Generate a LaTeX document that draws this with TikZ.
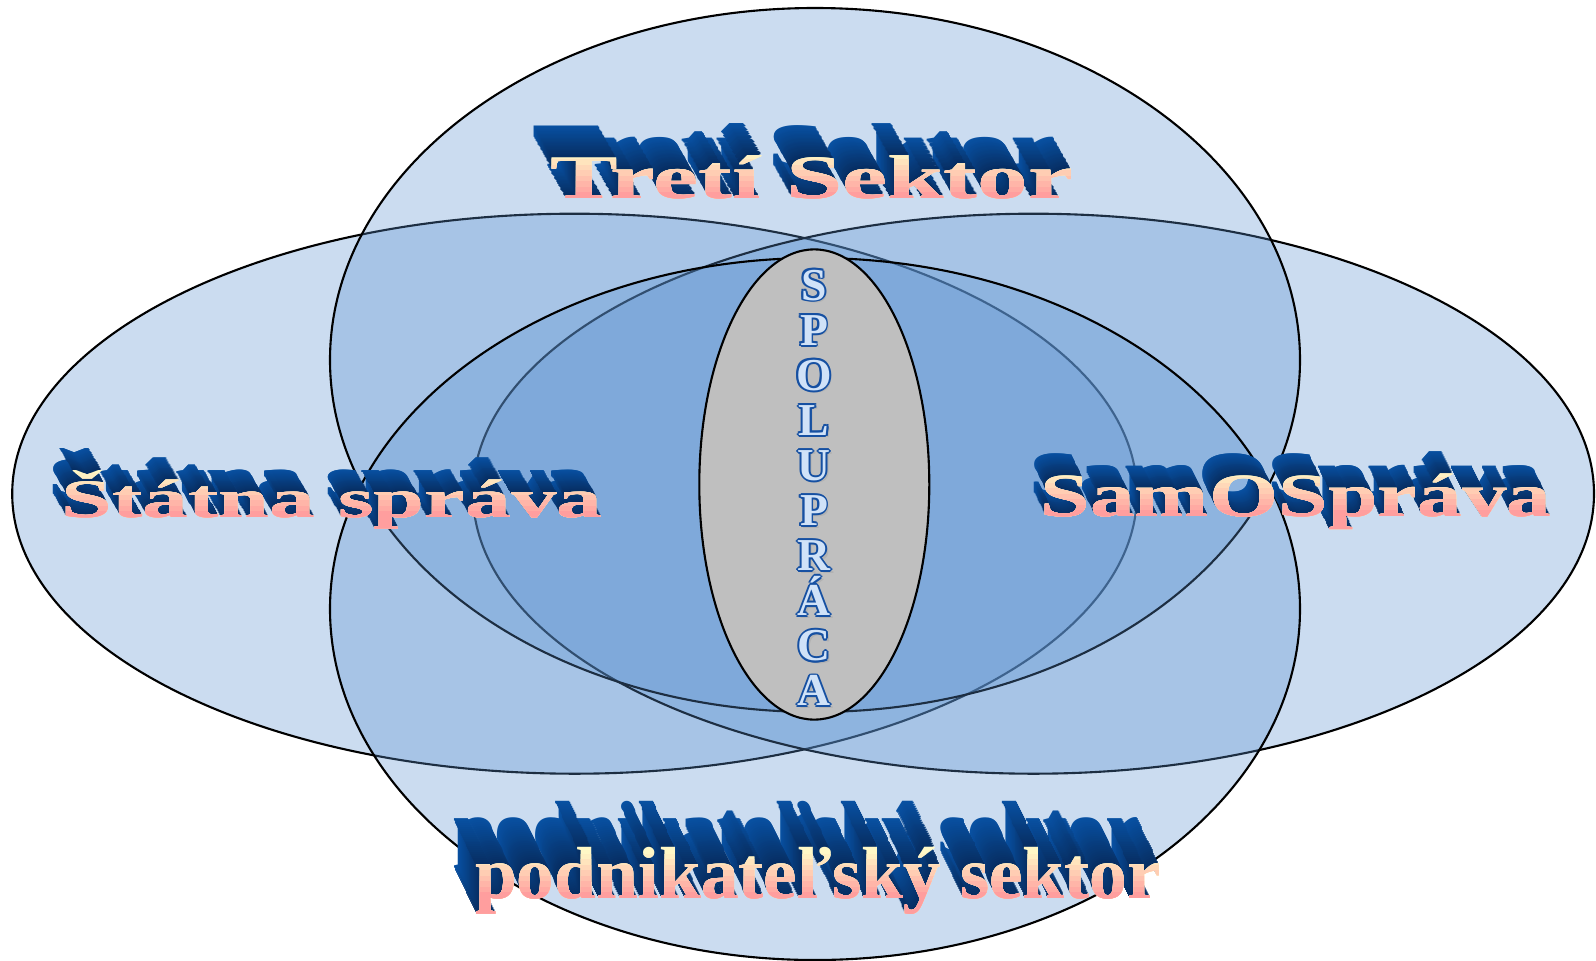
\documentclass[tikz,border=0pt]{standalone}
\usepackage{fontspec}
\setmainfont{Liberation Serif}
\usepackage{xcolor}
\usepackage{tikz}
\usetikzlibrary{calc}

\definecolor{setblue}{RGB}{92,146,208}
\definecolor{artblue}{RGB}{8,86,172}
\definecolor{artnavy}{RGB}{6,36,80}
\definecolor{artpink}{RGB}{255,158,158}
\definecolor{artcream}{RGB}{255,248,198}
\definecolor{letterblue}{RGB}{22,80,162}
\definecolor{letterfill}{RGB}{208,226,248}

\tikzset{
  sector/.style={draw=black, line width=0.6pt, fill=setblue, fill opacity=0.32},
  core/.style={draw=black, line width=0.6pt, fill=gray!50},
  artword/.style={anchor=base, inner sep=0pt},
  letter/.style={anchor=base, inner sep=0pt, font=\fontsize{13}{15}\selectfont\bfseries}
}

% extruded label: name, position, depth, options, text
\newcommand{\artword}[5]{%
  \foreach \k in {24,...,1}{
    \pgfmathtruncatemacro\m{82-3*\k}
    \node[artword, #4, text=artnavy!\m!artblue] (#1-back\k) at ($(#2)+{\k/24}*(#3)$) {#5};
  }
  \node[artword, #4, text=artcream] (#1) at (#2) {#5};
  \foreach \b in {7,...,0}{
    \pgfmathtruncatemacro\p{100-\b*13}
    \begin{scope}
      \clip ($(#2)+(-6,-1)$) rectangle ($(#2)+(6,0.055*\b+0.055)$);
      \node[artword, #4, text=artpink!\p!artcream] (#1-band\b) at (#2) {#5};
    \end{scope}
  }
}

\begin{document}
\begin{tikzpicture}
  \useasboundingbox (0,0) rectangle (15.96,9.6);

  % the four sectors
  \draw[sector] (5.746,4.663) ellipse (5.624 and 2.80);
  \draw[sector] (10.335,4.663) ellipse (5.605 and 2.80);
  \draw[sector] (8.15,6.0) ellipse (4.85 and 3.52);
  \draw[sector] (8.15,3.51) ellipse (4.85 and 3.51);

  \draw[core] (8.143,4.755) ellipse (1.15 and 2.351);

  \artword{treti}{8.12,7.62}{-0.18,0.32}{font=\fontsize{17.6}{20}\selectfont\bfseries, xscale=1.64}{Tretí Sektor}
  \artword{statna}{3.32,4.43}{-0.13,0.22}{font=\fontsize{15.4}{18}\selectfont\bfseries, xscale=1.69}{Štátna správa}
  \artword{samo}{12.96,4.44}{-0.11,0.22}{font=\fontsize{17.5}{20}\selectfont\bfseries, xscale=1.45}{SamOSpráva}
  \artword{podnik}{8.18,0.62}{-0.22,0.46}{font=\fontsize{21}{24}\selectfont\bfseries, xscale=1.02}{podnikateľský sektor}

  \foreach \l [count=\i from 0] in {S,P,O,L,U,P,R,Á,C,A}{
    \node[letter, text=gray!60] (sh\i) at (8.165, 6.575-0.451*\i) {\l};
    \foreach \a in {0,45,...,315}
      \node[letter, text=letterblue] (ol\i-\a) at ($(8.14,6.60-0.451*\i)+(\a:0.019)$) {\l};
    \node[letter, text=letterfill] (sp\i) at (8.14, 6.60-0.451*\i) {\l};
  }
\end{tikzpicture}
\end{document}
